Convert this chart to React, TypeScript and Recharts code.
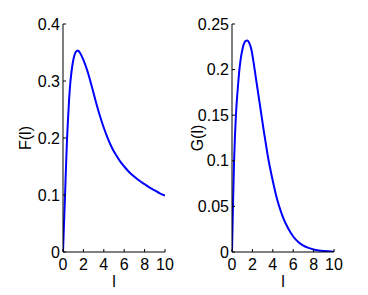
import React from 'react';
import { LineChart, Line, XAxis, YAxis, Label } from 'recharts';

// readings of F(l), left panel
const fL = [0, 0.1, 0.2, 0.3, 0.4, 0.5, 0.6, 0.7, 0.8, 0.9, 1.0, 1.1, 1.2, 1.3, 1.4, 1.5, 1.6, 1.8, 2.0, 2.4, 2.8, 3.2, 3.6, 4.0, 4.4, 4.8, 5.2, 5.6, 6.0, 6.5, 7.0, 7.5, 8.0, 8.5, 9.0, 9.5, 10];
const fValues = [0, 0.05, 0.1, 0.152, 0.2, 0.235, 0.268, 0.293, 0.311, 0.325, 0.336, 0.344, 0.349, 0.352, 0.353, 0.353, 0.351, 0.345, 0.337, 0.317, 0.292, 0.265, 0.24, 0.218, 0.199, 0.183, 0.17, 0.159, 0.15, 0.14, 0.132, 0.125, 0.119, 0.113, 0.108, 0.103, 0.099];

// readings of G(l), right panel
const gL = [0, 0.1, 0.2, 0.3, 0.4, 0.5, 0.6, 0.7, 0.8, 0.9, 1.0, 1.1, 1.2, 1.3, 1.5, 1.7, 1.9, 2.1, 2.3, 2.5, 2.7, 2.9, 3.1, 3.3, 3.5, 3.7, 3.9, 4.1, 4.3, 4.6, 5.0, 5.5, 6.0, 6.5, 7.0, 7.5, 8.0, 8.5, 9.0, 10];
const gValues = [0, 0.053, 0.099, 0.13, 0.153, 0.17, 0.184, 0.197, 0.207, 0.215, 0.221, 0.226, 0.229, 0.231, 0.232, 0.229, 0.222, 0.209, 0.194, 0.179, 0.164, 0.149, 0.134, 0.12, 0.106, 0.094, 0.083, 0.073, 0.063, 0.051, 0.038, 0.026, 0.017, 0.011, 0.007, 0.0045, 0.0028, 0.0017, 0.001, 0.0004];

const xTicks = [0, 2, 4, 6, 8, 10];
const fTicks = [0, 0.1, 0.2, 0.3, 0.4];
const gTicks = [0, 0.05, 0.1, 0.15, 0.2, 0.25];

const FONT = '"Liberation Sans", Arial, sans-serif';
const tickStyle = { fontSize: 16, fill: '#000', fontFamily: FONT };

interface PanelProps {
  xs: number[];
  ys: number[];
  yTicks: number[];
  yMax: number;
  yLabel: string;
  yAxisWidth: number;
  labelX: number;
}

const Panel: React.FC<PanelProps> = ({ xs, ys, yTicks, yMax, yLabel, yAxisWidth, labelX }) => {
  const data = xs.map((l, i) => ({ l, v: ys[i] }));
  const plotRight = yAxisWidth + 102;
  return (
    <LineChart width={184} height={295} data={data} margin={{ top: 24, right: 184 - plotRight, bottom: 0, left: 0 }}>
      <XAxis
        dataKey="l"
        type="number"
        domain={[0, 10]}
        ticks={xTicks}
        interval={0}
        allowDataOverflow
        height={43}
        stroke="#000"
        tickSize={-3}
        tickMargin={10}
        tick={tickStyle}
        label={
          <Label
            content={() => (
              <text x={yAxisWidth + 51} y={287} textAnchor="middle" fontSize={16} fontFamily={FONT} fill="#000">
                l
              </text>
            )}
          />
        }
      />
      <XAxis
        xAxisId="top"
        dataKey="l"
        type="number"
        orientation="top"
        domain={[0, 10]}
        ticks={xTicks}
        interval={0}
        height={0}
        stroke="#000"
        tickSize={-3}
        tick={false}
      />
      <YAxis
        type="number"
        domain={[0, yMax]}
        ticks={yTicks}
        interval={0}
        allowDataOverflow
        width={yAxisWidth}
        stroke="#000"
        tickSize={-3}
        tickMargin={6}
        tick={tickStyle}
        tickFormatter={(v: number) => String(v)}
        label={
          <Label
            content={() => (
              <text
                x={labelX}
                y={138}
                transform={`rotate(-90 ${labelX} 138)`}
                textAnchor="middle"
                dominantBaseline="central"
                fontSize={16}
                fontFamily={FONT}
                fill="#000"
              >
                {yLabel}
              </text>
            )}
          />
        }
      />
      <YAxis
        yAxisId="right"
        type="number"
        orientation="right"
        domain={[0, yMax]}
        ticks={yTicks}
        interval={0}
        width={0}
        stroke="#000"
        tickSize={-3}
        tick={false}
      />
      <Line type="monotone" dataKey="v" stroke="#0000ff" strokeWidth={2} dot={false} isAnimationActive={false} />
    </LineChart>
  );
};

const App: React.FC = () => {
  return (
    <div style={{ position: 'absolute', left: 0, top: 0, width: 368, height: 295, background: '#fff' }}>
      <div style={{ position: 'absolute', left: 0, top: 0 }}>
        <Panel xs={fL} ys={fValues} yTicks={fTicks} yMax={0.4} yLabel="F(l)" yAxisWidth={63} labelX={25} />
      </div>
      <div style={{ position: 'absolute', left: 184, top: 0 }}>
        <Panel xs={gL} ys={gValues} yTicks={gTicks} yMax={0.25} yLabel="G(l)" yAxisWidth={48} labelX={13} />
      </div>
    </div>
  );
};

export default App;
